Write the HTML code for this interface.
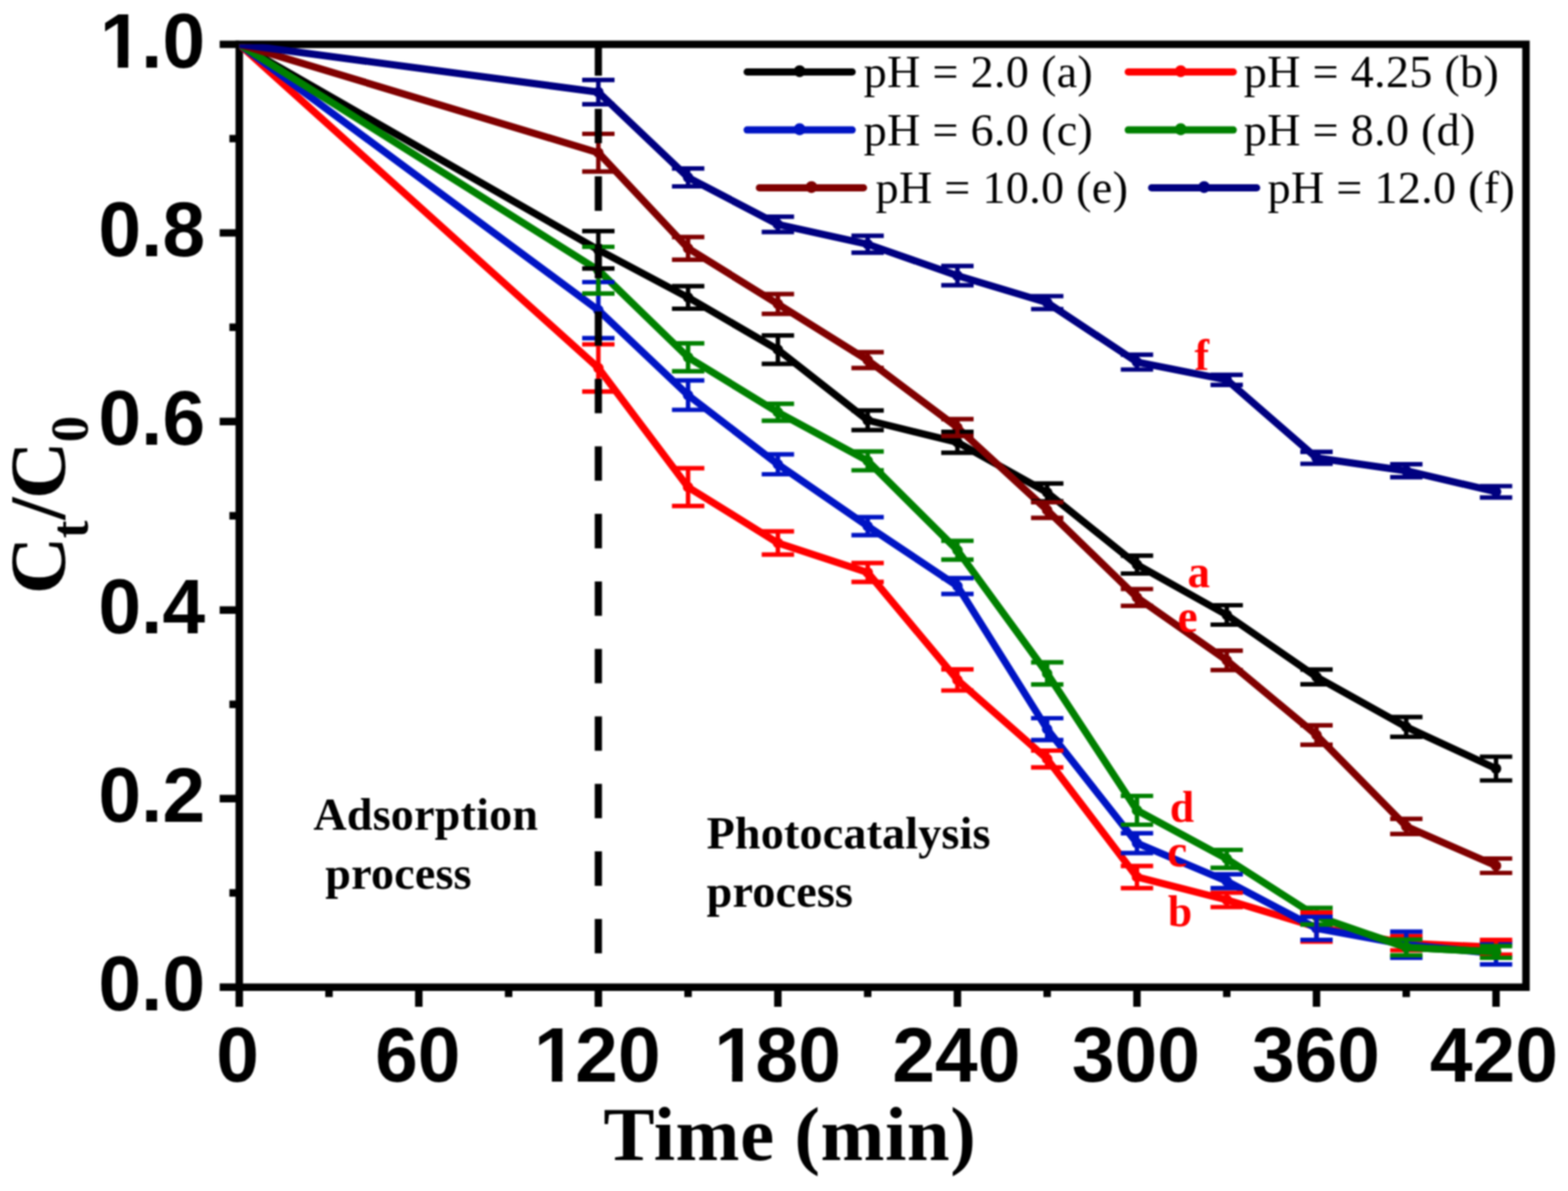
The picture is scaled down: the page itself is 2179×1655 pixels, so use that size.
<!DOCTYPE html>
<html lang="en"><head><meta charset="utf-8"><title>Ct/C0 versus time at different pH</title>
<style>
html,body{margin:0;padding:0;background:#fff;}
body{width:2179px;height:1655px;overflow:hidden;}
svg{display:block;}
#chart{width:2179px;height:1655px;overflow:hidden;filter:blur(1.00px);}
.tk{font-family:"Liberation Sans",sans-serif;font-weight:700;font-size:106.7px;fill:#000;}
.ax{font-family:"Liberation Serif",serif;font-weight:700;font-size:106.7px;fill:#000;}
.an{font-family:"Liberation Serif",serif;font-weight:700;font-size:64px;fill:#000;}
.lb{font-family:"Liberation Serif",serif;font-weight:700;font-size:64px;fill:#ff0000;}
.lg{font-family:"Liberation Serif",serif;font-weight:400;font-size:64px;fill:#000;}
</style></head><body>
<div id="chart">
<svg width="2179" height="1655" viewBox="0 0 2179 1655">
<rect x="0" y="0" width="2179" height="1655" fill="#ffffff"/>
<defs><clipPath id="axclip"><rect x="332.5" y="61.6" width="1788.1" height="1310.2"/></clipPath><clipPath id="nofoot"><path clip-rule="evenodd" d="M-20 -110H420V40H-20Z M2 -12H26.9V3H2Z M41.5 -12H62V3H41.5Z"/></clipPath></defs>
<rect x="332.5" y="61.6" width="1788.1" height="1310.2" fill="none" stroke="#000" stroke-width="10.4"/>
<path d="M305.3 1371.8H332.5M318.8 1240.8H332.5M305.3 1109.8H332.5M318.8 978.7H332.5M305.3 847.7H332.5M318.8 716.7H332.5M305.3 585.7H332.5M318.8 454.7H332.5M305.3 323.6H332.5M318.8 192.6H332.5M305.3 61.6H332.5M332.5 1371.8V1399.0M457.2 1371.8V1385.5M582.0 1371.8V1399.0M706.8 1371.8V1385.5M831.5 1371.8V1399.0M956.2 1371.8V1385.5M1081.0 1371.8V1399.0M1205.8 1371.8V1385.5M1330.5 1371.8V1399.0M1455.2 1371.8V1385.5M1580.0 1371.8V1399.0M1704.8 1371.8V1385.5M1829.5 1371.8V1399.0M1954.2 1371.8V1385.5M2079.0 1371.8V1399.0" stroke="#000" stroke-width="10.4" fill="none"/>
<g fill="none" clip-path="url(#axclip)">
<g stroke="#000000"><path d="M332.5 61.6L831.5 347.2L956.2 413.3L1081.0 485.9L1205.8 584.0L1330.5 614.7L1455.2 684.3L1580.0 784.6L1704.8 854.5L1829.5 940.6L1954.2 1010.1L2079.0 1068.0" stroke-width="10.0" stroke-linejoin="round" stroke-linecap="round"/><circle cx="831.5" cy="347.2" r="7.3" fill="#000000" stroke="none"/><circle cx="956.2" cy="413.3" r="7.3" fill="#000000" stroke="none"/><circle cx="1081.0" cy="485.9" r="7.3" fill="#000000" stroke="none"/><circle cx="1205.8" cy="584.0" r="7.3" fill="#000000" stroke="none"/><circle cx="1330.5" cy="614.7" r="7.3" fill="#000000" stroke="none"/><circle cx="1455.2" cy="684.3" r="7.3" fill="#000000" stroke="none"/><circle cx="1580.0" cy="784.6" r="7.3" fill="#000000" stroke="none"/><circle cx="1704.8" cy="854.5" r="7.3" fill="#000000" stroke="none"/><circle cx="1829.5" cy="940.6" r="7.3" fill="#000000" stroke="none"/><circle cx="1954.2" cy="1010.1" r="7.3" fill="#000000" stroke="none"/><circle cx="2079.0" cy="1068.0" r="7.3" fill="#000000" stroke="none"/></g>
<g stroke="#ff0000"><path d="M332.5 61.6L831.5 511.3L956.2 676.9L1081.0 754.5L1205.8 795.5L1330.5 944.8L1455.2 1054.7L1580.0 1218.7L1704.8 1250.5L1829.5 1288.2L1954.2 1310.7L2079.0 1316.3" stroke-width="10.0" stroke-linejoin="round" stroke-linecap="round"/><circle cx="831.5" cy="511.3" r="7.3" fill="#ff0000" stroke="none"/><circle cx="956.2" cy="676.9" r="7.3" fill="#ff0000" stroke="none"/><circle cx="1081.0" cy="754.5" r="7.3" fill="#ff0000" stroke="none"/><circle cx="1205.8" cy="795.5" r="7.3" fill="#ff0000" stroke="none"/><circle cx="1330.5" cy="944.8" r="7.3" fill="#ff0000" stroke="none"/><circle cx="1455.2" cy="1054.7" r="7.3" fill="#ff0000" stroke="none"/><circle cx="1580.0" cy="1218.7" r="7.3" fill="#ff0000" stroke="none"/><circle cx="1704.8" cy="1250.5" r="7.3" fill="#ff0000" stroke="none"/><circle cx="1829.5" cy="1288.2" r="7.3" fill="#ff0000" stroke="none"/><circle cx="1954.2" cy="1310.7" r="7.3" fill="#ff0000" stroke="none"/><circle cx="2079.0" cy="1316.3" r="7.3" fill="#ff0000" stroke="none"/></g>
<g stroke="#0014c4"><path d="M332.5 61.6L831.5 430.9L956.2 549.1L1081.0 645.2L1205.8 731.2L1330.5 814.3L1455.2 1013.2L1580.0 1171.6L1704.8 1224.5L1829.5 1290.0L1954.2 1312.8L2079.0 1325.0" stroke-width="10.0" stroke-linejoin="round" stroke-linecap="round"/><circle cx="831.5" cy="430.9" r="7.3" fill="#0014c4" stroke="none"/><circle cx="956.2" cy="549.1" r="7.3" fill="#0014c4" stroke="none"/><circle cx="1081.0" cy="645.2" r="7.3" fill="#0014c4" stroke="none"/><circle cx="1205.8" cy="731.2" r="7.3" fill="#0014c4" stroke="none"/><circle cx="1330.5" cy="814.3" r="7.3" fill="#0014c4" stroke="none"/><circle cx="1455.2" cy="1013.2" r="7.3" fill="#0014c4" stroke="none"/><circle cx="1580.0" cy="1171.6" r="7.3" fill="#0014c4" stroke="none"/><circle cx="1704.8" cy="1224.5" r="7.3" fill="#0014c4" stroke="none"/><circle cx="1829.5" cy="1290.0" r="7.3" fill="#0014c4" stroke="none"/><circle cx="1954.2" cy="1312.8" r="7.3" fill="#0014c4" stroke="none"/><circle cx="2079.0" cy="1325.0" r="7.3" fill="#0014c4" stroke="none"/></g>
<g stroke="#008000"><path d="M332.5 61.6L831.5 375.4L956.2 496.5L1081.0 572.9L1205.8 640.4L1330.5 764.6L1455.2 935.8L1580.0 1126.0L1704.8 1193.4L1829.5 1273.2L1954.2 1316.5L2079.0 1322.8" stroke-width="10.0" stroke-linejoin="round" stroke-linecap="round"/><circle cx="831.5" cy="375.4" r="7.3" fill="#008000" stroke="none"/><circle cx="956.2" cy="496.5" r="7.3" fill="#008000" stroke="none"/><circle cx="1081.0" cy="572.9" r="7.3" fill="#008000" stroke="none"/><circle cx="1205.8" cy="640.4" r="7.3" fill="#008000" stroke="none"/><circle cx="1330.5" cy="764.6" r="7.3" fill="#008000" stroke="none"/><circle cx="1455.2" cy="935.8" r="7.3" fill="#008000" stroke="none"/><circle cx="1580.0" cy="1126.0" r="7.3" fill="#008000" stroke="none"/><circle cx="1704.8" cy="1193.4" r="7.3" fill="#008000" stroke="none"/><circle cx="1829.5" cy="1273.2" r="7.3" fill="#008000" stroke="none"/><circle cx="1954.2" cy="1316.5" r="7.3" fill="#008000" stroke="none"/><circle cx="2079.0" cy="1322.8" r="7.3" fill="#008000" stroke="none"/></g>
<g stroke="#800000"><path d="M332.5 61.6L831.5 212.2L956.2 345.1L1081.0 422.4L1205.8 500.4L1330.5 594.1L1455.2 708.8L1580.0 830.2L1704.8 917.6L1829.5 1021.4L1954.2 1148.3L2079.0 1203.0" stroke-width="10.0" stroke-linejoin="round" stroke-linecap="round"/><circle cx="831.5" cy="212.2" r="7.3" fill="#800000" stroke="none"/><circle cx="956.2" cy="345.1" r="7.3" fill="#800000" stroke="none"/><circle cx="1081.0" cy="422.4" r="7.3" fill="#800000" stroke="none"/><circle cx="1205.8" cy="500.4" r="7.3" fill="#800000" stroke="none"/><circle cx="1330.5" cy="594.1" r="7.3" fill="#800000" stroke="none"/><circle cx="1455.2" cy="708.8" r="7.3" fill="#800000" stroke="none"/><circle cx="1580.0" cy="830.2" r="7.3" fill="#800000" stroke="none"/><circle cx="1704.8" cy="917.6" r="7.3" fill="#800000" stroke="none"/><circle cx="1829.5" cy="1021.4" r="7.3" fill="#800000" stroke="none"/><circle cx="1954.2" cy="1148.3" r="7.3" fill="#800000" stroke="none"/><circle cx="2079.0" cy="1203.0" r="7.3" fill="#800000" stroke="none"/></g>
<g stroke="#000080"><path d="M332.5 61.6L831.5 128.0L956.2 246.6L1081.0 311.8L1205.8 339.4L1330.5 383.0L1455.2 420.5L1580.0 503.2L1704.8 527.8L1829.5 636.2L1954.2 654.2L2079.0 683.4" stroke-width="10.0" stroke-linejoin="round" stroke-linecap="round"/><circle cx="831.5" cy="128.0" r="7.3" fill="#000080" stroke="none"/><circle cx="956.2" cy="246.6" r="7.3" fill="#000080" stroke="none"/><circle cx="1081.0" cy="311.8" r="7.3" fill="#000080" stroke="none"/><circle cx="1205.8" cy="339.4" r="7.3" fill="#000080" stroke="none"/><circle cx="1330.5" cy="383.0" r="7.3" fill="#000080" stroke="none"/><circle cx="1455.2" cy="420.5" r="7.3" fill="#000080" stroke="none"/><circle cx="1580.0" cy="503.2" r="7.3" fill="#000080" stroke="none"/><circle cx="1704.8" cy="527.8" r="7.3" fill="#000080" stroke="none"/><circle cx="1829.5" cy="636.2" r="7.3" fill="#000080" stroke="none"/><circle cx="1954.2" cy="654.2" r="7.3" fill="#000080" stroke="none"/><circle cx="2079.0" cy="683.4" r="7.3" fill="#000080" stroke="none"/></g>
<g stroke-width="6.2">
<path stroke="#008000" d="M1829.5 1261.7V1284.7M1807.0 1261.7H1852.0M1807.0 1284.7H1852.0"/>
<path stroke="#000000" d="M831.5 321.2V373.2M809.0 321.2H854.0M809.0 373.2H854.0"/>
<path stroke="#000000" d="M956.2 397.6V429.0M933.8 397.6H978.8M933.8 429.0H978.8"/>
<path stroke="#000000" d="M1081.0 466.2V505.6M1058.5 466.2H1103.5M1058.5 505.6H1103.5"/>
<path stroke="#000000" d="M1205.8 570.4V597.6M1183.2 570.4H1228.2M1183.2 597.6H1228.2"/>
<path stroke="#000000" d="M1330.5 600.2V629.2M1308.0 600.2H1353.0M1308.0 629.2H1353.0"/>
<path stroke="#000000" d="M1455.2 671.9V696.7M1432.8 671.9H1477.8M1432.8 696.7H1477.8"/>
<path stroke="#000000" d="M1580.0 772.2V797.0M1557.5 772.2H1602.5M1557.5 797.0H1602.5"/>
<path stroke="#000000" d="M1704.8 841.0V868.0M1682.2 841.0H1727.2M1682.2 868.0H1727.2"/>
<path stroke="#000000" d="M1829.5 930.3V950.9M1807.0 930.3H1852.0M1807.0 950.9H1852.0"/>
<path stroke="#000000" d="M1954.2 996.3V1023.9M1931.8 996.3H1976.8M1931.8 1023.9H1976.8"/>
<path stroke="#000000" d="M2079.0 1051.5V1084.5M2056.5 1051.5H2101.5M2056.5 1084.5H2101.5"/>
<path stroke="#ff0000" d="M831.5 478.5V544.1M809.0 478.5H854.0M809.0 544.1H854.0"/>
<path stroke="#ff0000" d="M956.2 650.7V703.1M933.8 650.7H978.8M933.8 703.1H978.8"/>
<path stroke="#ff0000" d="M1081.0 738.4V770.6M1058.5 738.4H1103.5M1058.5 770.6H1103.5"/>
<path stroke="#ff0000" d="M1205.8 782.3V808.7M1183.2 782.3H1228.2M1183.2 808.7H1228.2"/>
<path stroke="#ff0000" d="M1330.5 930.1V959.5M1308.0 930.1H1353.0M1308.0 959.5H1353.0"/>
<path stroke="#ff0000" d="M1455.2 1043.0V1066.4M1432.8 1043.0H1477.8M1432.8 1066.4H1477.8"/>
<path stroke="#ff0000" d="M1580.0 1203.3V1234.1M1557.5 1203.3H1602.5M1557.5 1234.1H1602.5"/>
<path stroke="#ff0000" d="M1704.8 1240.5V1260.5M1682.2 1240.5H1727.2M1682.2 1260.5H1727.2"/>
<path stroke="#ff0000" d="M1829.5 1268.0V1308.4M1807.0 1268.0H1852.0M1807.0 1308.4H1852.0"/>
<path stroke="#ff0000" d="M1954.2 1300.9V1320.5M1931.8 1300.9H1976.8M1931.8 1320.5H1976.8"/>
<path stroke="#0014c4" d="M831.5 392.0V469.8M809.0 392.0H854.0M809.0 469.8H854.0"/>
<path stroke="#0014c4" d="M956.2 528.7V569.5M933.8 528.7H978.8M933.8 569.5H978.8"/>
<path stroke="#0014c4" d="M1081.0 631.4V659.0M1058.5 631.4H1103.5M1058.5 659.0H1103.5"/>
<path stroke="#0014c4" d="M1205.8 718.7V743.7M1183.2 718.7H1228.2M1183.2 743.7H1228.2"/>
<path stroke="#0014c4" d="M1330.5 803.3V825.3M1308.0 803.3H1353.0M1308.0 825.3H1353.0"/>
<path stroke="#0014c4" d="M1455.2 998.0V1028.4M1432.8 998.0H1477.8M1432.8 1028.4H1477.8"/>
<path stroke="#0014c4" d="M1580.0 1157.8V1185.4M1557.5 1157.8H1602.5M1557.5 1185.4H1602.5"/>
<path stroke="#0014c4" d="M1704.8 1214.9V1234.1M1682.2 1214.9H1727.2M1682.2 1234.1H1727.2"/>
<path stroke="#0014c4" d="M1829.5 1274.0V1306.0M1807.0 1274.0H1852.0M1807.0 1306.0H1852.0"/>
<path stroke="#0014c4" d="M1954.2 1294.7V1330.9M1931.8 1294.7H1976.8M1931.8 1330.9H1976.8"/>
<path stroke="#0014c4" d="M2079.0 1309.8V1340.2M2056.5 1309.8H2101.5M2056.5 1340.2H2101.5"/>
<path stroke="#ff0000" d="M2079.0 1306.1V1326.5M2056.5 1306.1H2101.5M2056.5 1326.5H2101.5"/>
<path stroke="#008000" stroke-width="10.0" stroke-linejoin="round" stroke-linecap="round" d="M1904.3 1299.2L1954.2 1316.5L2079.0 1322.8"/>
<circle cx="1954.2" cy="1316.5" r="7.3" fill="#008000"/>
<circle cx="2079.0" cy="1322.8" r="7.3" fill="#008000"/>
<path stroke="#008000" d="M831.5 343.0V407.8M809.0 343.0H854.0M809.0 407.8H854.0"/>
<path stroke="#008000" d="M956.2 477.2V515.8M933.8 477.2H978.8M933.8 515.8H978.8"/>
<path stroke="#008000" d="M1081.0 561.2V584.6M1058.5 561.2H1103.5M1058.5 584.6H1103.5"/>
<path stroke="#008000" d="M1205.8 627.3V653.5M1183.2 627.3H1228.2M1183.2 653.5H1228.2"/>
<path stroke="#008000" d="M1330.5 751.5V777.7M1308.0 751.5H1353.0M1308.0 777.7H1353.0"/>
<path stroke="#008000" d="M1455.2 920.4V951.2M1432.8 920.4H1477.8M1432.8 951.2H1477.8"/>
<path stroke="#008000" d="M1580.0 1106.0V1146.0M1557.5 1106.0H1602.5M1557.5 1146.0H1602.5"/>
<path stroke="#008000" d="M1704.8 1181.0V1205.8M1682.2 1181.0H1727.2M1682.2 1205.8H1727.2"/>
<path stroke="#008000" d="M1954.2 1305.5V1327.5M1931.8 1305.5H1976.8M1931.8 1327.5H1976.8"/>
<path stroke="#008000" d="M2079.0 1314.6V1331.0M2056.5 1314.6H2101.5M2056.5 1331.0H2101.5"/>
<path stroke="#800000" d="M831.5 186.0V238.4M809.0 186.0H854.0M809.0 238.4H854.0"/>
<path stroke="#800000" d="M956.2 329.3V360.9M933.8 329.3H978.8M933.8 360.9H978.8"/>
<path stroke="#800000" d="M1081.0 408.6V436.2M1058.5 408.6H1103.5M1058.5 436.2H1103.5"/>
<path stroke="#800000" d="M1205.8 489.4V511.4M1183.2 489.4H1228.2M1183.2 511.4H1228.2"/>
<path stroke="#800000" d="M1330.5 582.4V605.8M1308.0 582.4H1353.0M1308.0 605.8H1353.0"/>
<path stroke="#800000" d="M1455.2 698.0V719.6M1432.8 698.0H1477.8M1432.8 719.6H1477.8"/>
<path stroke="#800000" d="M1580.0 818.5V841.9M1557.5 818.5H1602.5M1557.5 841.9H1602.5"/>
<path stroke="#800000" d="M1704.8 904.1V931.1M1682.2 904.1H1727.2M1682.2 931.1H1727.2"/>
<path stroke="#800000" d="M1829.5 1007.9V1034.9M1807.0 1007.9H1852.0M1807.0 1034.9H1852.0"/>
<path stroke="#800000" d="M1954.2 1137.8V1158.8M1931.8 1137.8H1976.8M1931.8 1158.8H1976.8"/>
<path stroke="#800000" d="M2079.0 1193.0V1213.0M2056.5 1193.0H2101.5M2056.5 1213.0H2101.5"/>
<path stroke="#000080" d="M831.5 111.2V144.8M809.0 111.2H854.0M809.0 144.8H854.0"/>
<path stroke="#000080" d="M956.2 234.2V259.0M933.8 234.2H978.8M933.8 259.0H978.8"/>
<path stroke="#000080" d="M1081.0 301.2V322.4M1058.5 301.2H1103.5M1058.5 322.4H1103.5"/>
<path stroke="#000080" d="M1205.8 327.7V351.1M1183.2 327.7H1228.2M1183.2 351.1H1228.2"/>
<path stroke="#000080" d="M1330.5 369.6V396.4M1308.0 369.6H1353.0M1308.0 396.4H1353.0"/>
<path stroke="#000080" d="M1455.2 411.5V429.5M1432.8 411.5H1477.8M1432.8 429.5H1477.8"/>
<path stroke="#000080" d="M1580.0 492.9V513.5M1557.5 492.9H1602.5M1557.5 513.5H1602.5"/>
<path stroke="#000080" d="M1704.8 520.8V534.8M1682.2 520.8H1727.2M1682.2 534.8H1727.2"/>
<path stroke="#000080" d="M1829.5 627.9V644.5M1807.0 627.9H1852.0M1807.0 644.5H1852.0"/>
<path stroke="#000080" d="M1954.2 645.2V663.2M1931.8 645.2H1976.8M1931.8 663.2H1976.8"/>
<path stroke="#000080" d="M2079.0 675.5V691.3M2056.5 675.5H2101.5M2056.5 691.3H2101.5"/>
</g>
</g>
<line x1="831.5" y1="57.5" x2="831.5" y2="1325" stroke="#000" stroke-width="10" stroke-dasharray="47.8 46"/>
<text class="tk" x="136.7" y="1404.2">0.0</text>
<text class="tk" x="136.7" y="1142.2">0.2</text>
<text class="tk" x="136.7" y="880.1">0.4</text>
<text class="tk" x="136.7" y="618.1">0.6</text>
<text class="tk" x="136.7" y="356.0">0.8</text>
<g transform="translate(136.7 94.0)"><text class="tk" clip-path="url(#nofoot)" x="2" y="0">1<tspan dx="-2">.0</tspan></text></g>
<text class="tk" x="300.6" y="1502.5">0</text>
<text class="tk" x="521.2" y="1502.5">60</text>
<g transform="translate(740.0 1502.5)"><text class="tk" clip-path="url(#nofoot)" x="2" y="0">1<tspan dx="-2">20</tspan></text></g>
<g transform="translate(990.5 1502.5)"><text class="tk" clip-path="url(#nofoot)" x="2" y="0">1<tspan dx="-2">80</tspan></text></g>
<text class="tk" x="1240.0" y="1502.5">240</text>
<text class="tk" x="1489.5" y="1502.5">300</text>
<text class="tk" x="1739.7" y="1502.5">360</text>
<text class="tk" x="1987.0" y="1502.5">420</text>
<text class="ax" x="838.5" y="1612.2" style="letter-spacing:0.75px">Time (min)</text>
<text class="ax" transform="translate(90.3 821) rotate(-90)" style="font-size:111px"><tspan x="-4.7" y="0">C</tspan><tspan x="73" y="32" style="font-size:74px">t</tspan><tspan x="98.8" y="0">/</tspan><tspan x="127.6" y="0">C</tspan><tspan x="206.6" y="32" style="font-size:73px">0</tspan></text>
<text class="an" x="435.5" y="1153.4" style="letter-spacing:0.3px">Adsorption</text>
<text class="an" x="452" y="1234.9" style="letter-spacing:0.3px">process</text>
<text class="an" x="982" y="1179.2" style="letter-spacing:0.26px">Photocatalysis</text>
<text class="an" x="982" y="1259.5" style="letter-spacing:0.3px">process</text>
<text class="lb" x="1659.9" y="514.0" style="font-size:60.5px">f</text>
<text class="lb" x="1650.2" y="816.0" style="font-size:62.5px">a</text>
<text class="lb" x="1636.4" y="877.7" style="font-size:62.5px">e</text>
<text class="lb" x="1625.8" y="1141.5" style="font-size:60.5px">d</text>
<text class="lb" x="1622.1" y="1204.0" style="font-size:62.5px">c</text>
<text class="lb" x="1623.0" y="1287.0" style="font-size:60.5px">b</text>
<line x1="1038.3" y1="100.0" x2="1184.2" y2="100.0" stroke="#000000" stroke-width="10.0" stroke-linecap="round"/>
<circle cx="1111.2" cy="99.0" r="8.3" fill="#000000"/>
<text class="lg" x="1200.3" y="121.4" style="letter-spacing:0.45px">pH = 2.0 (a)</text>
<line x1="1567.9" y1="100.0" x2="1713.8" y2="100.0" stroke="#ff0000" stroke-width="10.0" stroke-linecap="round"/>
<circle cx="1640.8" cy="99.0" r="8.3" fill="#ff0000"/>
<text class="lg" x="1728.5" y="121.4" style="letter-spacing:0.45px">pH = 4.25 (b)</text>
<line x1="1038.3" y1="180.6" x2="1184.2" y2="180.6" stroke="#0014c4" stroke-width="10.0" stroke-linecap="round"/>
<circle cx="1111.2" cy="179.6" r="8.3" fill="#0014c4"/>
<text class="lg" x="1200.3" y="202.0" style="letter-spacing:0.45px">pH = 6.0 (c)</text>
<line x1="1567.9" y1="180.6" x2="1713.8" y2="180.6" stroke="#008000" stroke-width="10.0" stroke-linecap="round"/>
<circle cx="1640.8" cy="179.6" r="8.3" fill="#008000"/>
<text class="lg" x="1728.5" y="202.0" style="letter-spacing:0.45px">pH = 8.0 (d)</text>
<line x1="1055.3" y1="261.0" x2="1200.0" y2="261.0" stroke="#800000" stroke-width="10.0" stroke-linecap="round"/>
<circle cx="1127.7" cy="260.0" r="8.3" fill="#800000"/>
<text class="lg" x="1216.8" y="281.9" style="letter-spacing:0.45px">pH = 10.0 (e)</text>
<line x1="1600.4" y1="261.0" x2="1746.3" y2="261.0" stroke="#000080" stroke-width="10.0" stroke-linecap="round"/>
<circle cx="1673.3" cy="260.0" r="8.3" fill="#000080"/>
<text class="lg" x="1761.5" y="281.9" style="letter-spacing:0.45px">pH = 12.0 (f)</text>
</svg>
</div>
</body></html>
